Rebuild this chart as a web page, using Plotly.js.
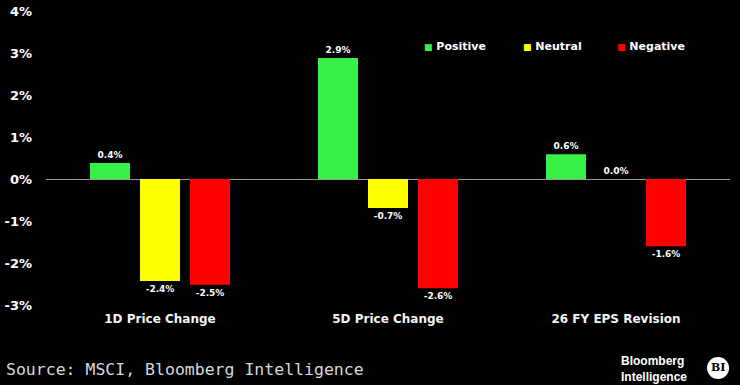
<!DOCTYPE html>
<html>
<head>
<meta charset="utf-8">
<script src="https://cdn.plot.ly/plotly-3.0.1.min.js"></script>
<style>
  html, body { margin: 0; padding: 0; background: #000; }
  #chart { width: 740px; height: 385px; }
</style>
</head>
<body>
<div id="chart"></div>
<script>
const categories = ['1D Price Change', '5D Price Change', '26 FY EPS Revision'];
const positive = [0.38, 2.88, 0.59];
const neutral = [-2.43, -0.69, 0.0];
const negative = [-2.52, -2.6, -1.6];
const yTickVals = [-3, -2, -1, 0, 1, 2, 3, 4];
const yTickText = ['-3%', '-2%', '-1%', '0%', '1%', '2%', '3%', '4%'];
const seriesNames = ['Positive', 'Neutral', 'Negative'];
const seriesColors = ['#38f048', '#ffff00', '#ff0000'];

const seriesValues = [positive, neutral, negative];
const labelFont = { family: 'DejaVu Sans', size: 9, color: '#ffffff', weight: 'bold' };

const traces = seriesValues.map((vals, i) => ({
  type: 'bar',
  name: seriesNames[i],
  x: categories,
  y: vals,
  marker: { color: seriesColors[i], line: { width: 0 } },
  texttemplate: '%{y:.1f}%',
  textposition: 'outside',
  textfont: labelFont,
  cliponaxis: false,
  showlegend: false,
  hoverinfo: 'skip'
}));

const legendX = [0.549, 0.694, 0.832];
const annotations = seriesNames.map((n, i) => ({
  xref: 'paper', yref: 'paper',
  x: legendX[i], y: 0.878,
  xanchor: 'left', yanchor: 'middle',
  text: '<span style="color:' + seriesColors[i] + ';font-size:9px">■</span> ' + n,
  showarrow: false,
  font: { family: 'DejaVu Sans', size: 11, color: '#ffffff', weight: 'bold' }
}));

annotations.push({
  xref: 'paper', yref: 'paper',
  x: -0.0615, y: -0.221,
  xanchor: 'left', yanchor: 'middle',
  text: 'Source: MSCI, Bloomberg Intelligence',
  showarrow: false,
  font: { family: 'DejaVu Sans Mono', size: 16.5, color: '#d8d8d8' }
});
annotations.push({
  xref: 'paper', yref: 'paper',
  x: 0.837, y: -0.218,
  xanchor: 'left', yanchor: 'middle',
  align: 'left',
  text: 'Bloomberg<br>Intelligence',
  showarrow: false,
  font: { family: 'Liberation Sans', size: 12, color: '#ffffff', weight: 'bold' }
});
annotations.push({
  xref: 'paper', yref: 'paper',
  x: 0.9825, y: -0.214,
  xanchor: 'center', yanchor: 'middle',
  text: 'BI',
  showarrow: false,
  font: { family: 'DejaVu Serif', size: 11, color: '#000000', weight: 'bold' }
});

const layout = {
  width: 740, height: 385,
  paper_bgcolor: '#000000',
  plot_bgcolor: '#000000',
  margin: { l: 46, r: 10, t: 11, b: 80 },
  barmode: 'group',
  bargap: 0.342,
  bargroupgap: 0.2,
  showlegend: false,
  xaxis: {
    type: 'category',
    showgrid: false,
    showline: false,
    zeroline: false,
    ticks: '',
    tickfont: { family: 'DejaVu Sans', size: 12, color: '#f4f4f4', weight: 'bold' },
    ticklabelstandoff: 5
  },
  yaxis: {
    range: [-3, 4],
    tickvals: yTickVals,
    ticktext: yTickText,
    showgrid: false,
    showline: false,
    zeroline: true,
    zerolinecolor: '#9a9a9a',
    zerolinewidth: 1,
    ticks: '',
    ticklabelstandoff: 13,
    tickfont: { family: 'DejaVu Sans', size: 13, color: '#ffffff', weight: 'bold' }
  },
  annotations: annotations,
  shapes: [{
    type: 'circle',
    xref: 'paper', yref: 'paper',
    x0: 0.9825 - 0.0161, x1: 0.9825 + 0.0161,
    y0: -0.214 - 0.0374, y1: -0.214 + 0.0374,
    fillcolor: '#ffffff',
    line: { width: 0 }
  }]
};

Plotly.newPlot('chart', traces, layout, { displayModeBar: false, staticPlot: true });
</script>
</body>
</html>
